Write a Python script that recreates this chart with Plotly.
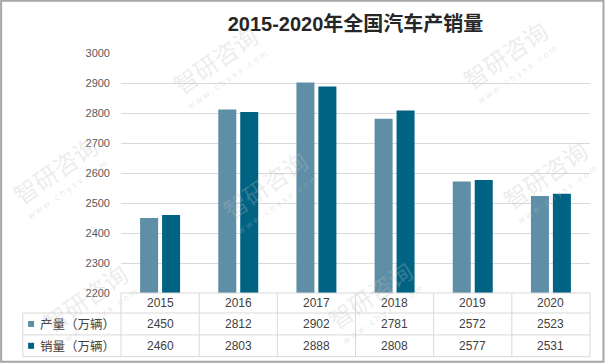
import plotly.graph_objects as go

years = ["2015", "2016", "2017", "2018", "2019", "2020"]
production = [2450, 2812, 2902, 2781, 2572, 2523]
sales = [2460, 2803, 2888, 2808, 2577, 2531]
series_names = ["产量（万辆）", "销量（万辆）"]
colors = ["#5e8fa7", "#006384"]
title = "2015-2020年全国汽车产销量"

W, H = 606, 364
L, R, T, B = 121, 15.5, 53.3, 70.7
PW = W - L - R
PH = H - T - B

def px(xp):
    return (xp - L) / PW

def py(yp):
    return (H - B - yp) / PH

fig = go.Figure()
for name, vals, c in zip(series_names, [production, sales], colors):
    fig.add_bar(x=years, y=vals, name=name, marker=dict(color=c, line=dict(width=0)),
                showlegend=False, hoverinfo="skip")

grid = "#d9d9d9"
shapes = []
# outer border
shapes.append(dict(type="rect", xref="paper", yref="paper",
                   x0=px(1), x1=px(W - 2), y0=py(1), y1=py(H - 2),
                   line=dict(color="#a6a6a6", width=2), layer="below"))
# table horizontal lines
row_y = [H - B, 313.3, 335.2, 357]
shapes.append(dict(type="line", xref="paper", yref="paper", x0=0, x1=1,
                   y0=py(row_y[0]), y1=py(row_y[0]), line=dict(color=grid, width=1)))
for yy in row_y[1:]:
    shapes.append(dict(type="line", xref="paper", yref="paper", x0=px(22.7), x1=1,
                       y0=py(yy), y1=py(yy), line=dict(color=grid, width=1)))
# table vertical lines
n = len(years)
for k in range(n + 1):
    shapes.append(dict(type="line", xref="paper", yref="paper", x0=k / n, x1=k / n,
                       y0=py(row_y[0]), y1=py(row_y[-1]), line=dict(color=grid, width=1)))
shapes.append(dict(type="line", xref="paper", yref="paper", x0=px(22.7), x1=px(22.7),
                   y0=py(row_y[1]), y1=py(row_y[-1]), line=dict(color=grid, width=1)))

annotations = []
row_c = [(row_y[i] + row_y[i + 1]) / 2 for i in range(3)]
tfont = dict(family="Liberation Sans, Arial", size=12, color="#404040")
for i, yr in enumerate(years):
    for r, txt in enumerate([yr, str(production[i]), str(sales[i])]):
        annotations.append(dict(x=i, xref="x", y=py(row_c[r]), yref="paper", text=txt,
                                xanchor="center", yanchor="middle",
                                showarrow=False, font=tfont))
for j, (name, c) in enumerate(zip(series_names, colors)):
    yc = row_c[j + 1]
    shapes.append(dict(type="rect", xref="paper", yref="paper",
                       x0=px(28), x1=px(34), y0=py(yc + 3), y1=py(yc - 3),
                       fillcolor=c, line=dict(width=0)))
    annotations.append(dict(x=px(38), xref="paper", y=py(yc), yref="paper", text=name,
                            xanchor="left", yanchor="middle", showarrow=False,
                            font=dict(family="Noto Sans CJK SC", size=12.5, color="#404040")))

# watermarks
wm = [(215, 60), (505, 55), (265, 185), (55, 170), (545, 175), (85, 298), (370, 295)]
for (wx, wy) in wm:
    annotations.append(dict(x=px(wx), y=py(wy), xref="paper", yref="paper",
                            xanchor="center", yanchor="middle",
                            text="智研咨询", showarrow=False, textangle=-35,
                            font=dict(family="Noto Sans CJK SC", size=24, color="rgba(190,190,190,0.28)")))
    annotations.append(dict(x=px(wx + 12), y=py(wy + 20), xref="paper", yref="paper",
                            xanchor="center", yanchor="middle",
                            text="w w w . c h y x x . c o m", showarrow=False, textangle=-35,
                            font=dict(family="Liberation Sans", size=9, color="rgba(190,190,190,0.35)")))

fig.update_layout(
    width=W, height=H,
    margin=dict(l=L, r=R, t=T, b=B, autoexpand=False),
    paper_bgcolor="white", plot_bgcolor="white",
    barmode="group", bargap=0.438, bargroupgap=0.18,
    hovermode=False,
    title=dict(text="<b>" + title + "</b>", x=0.5, xref="paper", xanchor="center",
               y=1 - 24 / H, yref="container", yanchor="middle",
               font=dict(family="Liberation Sans, Noto Sans CJK SC", size=20, color="#262626")),
    xaxis=dict(type="category", range=[-0.5, 5.5], showticklabels=False, showgrid=False,
               zeroline=False, showline=False, ticks="", fixedrange=True),
    yaxis=dict(range=[2200, 3000], dtick=100, showgrid=True, gridcolor=grid, gridwidth=1,
               zeroline=False, showline=False, ticks="", ticklabelstandoff=10, fixedrange=True,
               tickfont=dict(family="Liberation Sans, Arial", size=11, color="#595959")),
    shapes=shapes, annotations=annotations,
)
fig.write_html("out.html", config={"displayModeBar": False, "staticPlot": True},
               post_script="document.body.style.margin='0';document.body.style.overflow='hidden';")
